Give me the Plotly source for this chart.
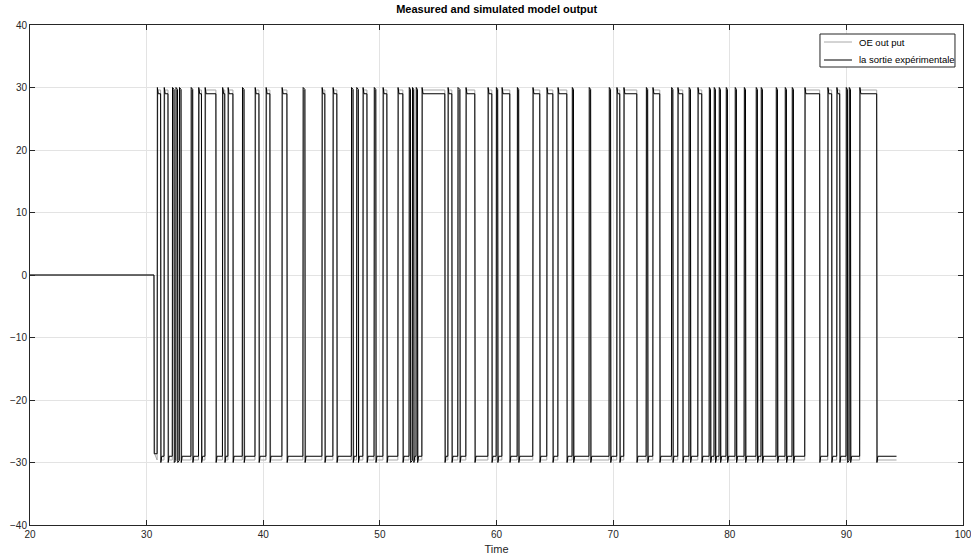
import plotly.graph_objects as go

# Switching instants of the high pulses (time units): rise and fall
pulse_start = [30.90, 31.49, 32.20, 32.50, 32.80, 33.80, 34.45, 35.00, 36.50, 36.97,
               38.20, 39.29, 40.23, 41.60, 43.40, 45.03, 45.97, 47.55, 48.00, 48.54,
               49.50, 50.26, 51.54, 52.50, 52.78, 53.10, 53.60, 55.83, 56.68, 57.37,
               59.26, 59.97, 60.46, 61.77, 63.11, 64.31, 65.26, 66.48, 67.93, 69.65,
               70.31, 70.91, 72.83, 73.40, 75.00, 75.54, 76.50, 77.26, 78.23, 78.65,
               79.08, 79.68, 80.45, 81.23, 82.25, 82.68, 83.97, 84.74, 85.34, 86.43,
               88.40, 89.17, 89.97, 90.23, 91.14]
pulse_end = [31.20, 31.83, 32.35, 32.65, 32.95, 33.95, 34.70, 35.94, 36.70, 37.40,
             38.35, 39.63, 40.57, 42.03, 43.57, 45.28, 46.31, 47.70, 48.15, 48.89,
             49.65, 50.60, 51.97, 52.62, 52.90, 53.22, 55.57, 56.17, 56.86, 58.14,
             59.60, 60.10, 61.14, 61.90, 63.71, 64.83, 66.03, 66.60, 68.07, 69.78,
             70.57, 72.03, 72.96, 74.00, 75.12, 75.97, 76.63, 77.60, 78.35, 78.77,
             79.20, 79.80, 80.57, 81.35, 82.37, 82.80, 84.09, 84.86, 85.46, 87.71,
             88.74, 89.43, 90.09, 90.35, 92.60]

t_begin, t_first_drop, t_stop = 20.0, 30.63, 94.30
first_low = -28.6
high_peak, high_level = 30.0, 29.0
low_peak, low_level = -30.0, -29.0

model_high, model_low = 29.6, -29.6

legend_names = ["OE out put", "la sortie expérimentale"]
line_colors = ["#a8a8a8", "#000000"]
axis_color = "#262626"
font_family = "Liberation Sans"


def measured_trace():
    xs = [t_begin, t_first_drop, t_first_drop + 0.02]
    ys = [0.0, 0.0, first_low]
    prev_low = first_low
    for i, (s, e) in enumerate(zip(pulse_start, pulse_end)):
        xs += [s, s + 0.02]
        ys += [prev_low, high_peak]
        if e - s > 0.2:
            xs += [s + 0.10, e]
            ys += [high_level, high_level]
        else:
            xs += [e]
            ys += [high_peak - 0.3]
        xs += [e + 0.02]
        ys += [low_peak]
        nxt = pulse_start[i + 1] if i + 1 < len(pulse_start) else t_stop
        if nxt - e > 0.2:
            xs += [e + 0.10]
            ys += [low_level]
            prev_low = low_level
        else:
            prev_low = low_peak + 0.3
    xs += [t_stop]
    ys += [low_level]
    return xs, ys


def model_trace():
    xs = [t_begin, t_first_drop, t_first_drop + 0.06]
    ys = [0.0, 0.0, first_low]
    for s, e in zip(pulse_start, pulse_end):
        xs += [s, s + 0.06, e, e + 0.06]
        ys += [model_low, model_high, model_high, model_low]
    xs += [t_stop]
    ys += [model_low]
    return xs, ys


mx, my = model_trace()
ex, ey = measured_trace()

fig = go.Figure()
fig.add_trace(go.Scatter(x=mx, y=my, mode="lines", name=legend_names[0],
                         line=dict(color=line_colors[0], width=1)))
fig.add_trace(go.Scatter(x=ex, y=ey, mode="lines", name=legend_names[1],
                         line=dict(color=line_colors[1], width=1)))

axis_common = dict(
    showline=True, linecolor=axis_color, linewidth=1, mirror="allticks",
    ticks="inside", ticklen=5, tickcolor=axis_color, automargin=False,
    ticklabeloverflow="allow",
    showgrid=True, gridcolor="#e3e3e3", gridwidth=1,
    zeroline=False, tickfont=dict(family=font_family, size=10, color=axis_color),
)

fig.update_layout(
    width=971, height=557,
    margin=dict(l=30, r=8, t=25, b=32),
    paper_bgcolor="white", plot_bgcolor="white",
    title=dict(text="<b>Measured and simulated model output</b>",
               x=0.5115, xanchor="center", y=0.99, yanchor="top",
               font=dict(family=font_family, size=11, color="#000000")),
    xaxis=dict(range=[20, 100], tickvals=[20, 30, 40, 50, 60, 70, 80, 90, 100],
               title=dict(text="Time", standoff=6,
                          font=dict(family=font_family, size=11, color=axis_color)),
               **axis_common),
    yaxis=dict(range=[-40, 40], tickvals=[-40, -30, -20, -10, 0, 10, 20, 30, 40],
               **axis_common),
    showlegend=False,
)

# Compact boxed legend in the upper right corner of the axes
box_x0, box_x1, box_y0, box_y1 = 0.8467, 0.9914, 0.916, 0.982
sample_x0, sample_x1, label_x = 0.851, 0.881, 0.8864
row_y = [0.966, 0.930]

fig.add_shape(type="rect", xref="paper", yref="paper",
              x0=box_x0, x1=box_x1, y0=box_y0, y1=box_y1,
              line=dict(color=axis_color, width=1), fillcolor="white", layer="above")
for name, color, yy in zip(legend_names, line_colors, row_y):
    fig.add_shape(type="line", xref="paper", yref="paper",
                  x0=sample_x0, x1=sample_x1, y0=yy, y1=yy,
                  line=dict(color=color, width=1), layer="above")
    fig.add_annotation(xref="paper", yref="paper", x=label_x, y=yy,
                       xanchor="left", yanchor="middle", text=name, showarrow=False,
                       font=dict(family=font_family, size=9.5, color="#000000"))

fig.write_html("out.html")
